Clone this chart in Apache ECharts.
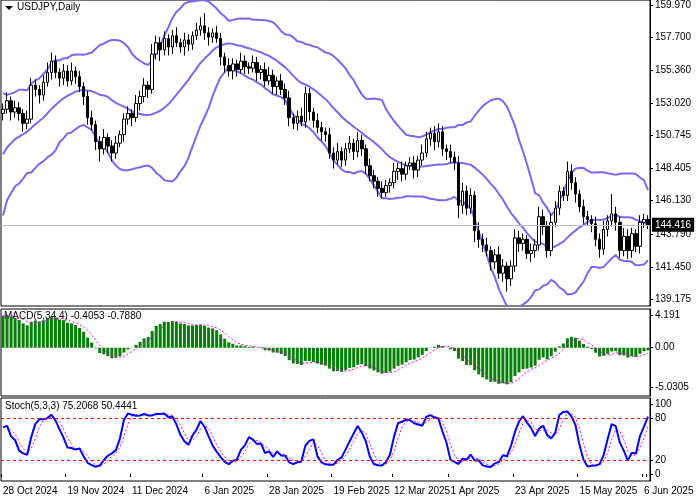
<!DOCTYPE html>
<html>
<head>
<meta charset="utf-8">
<title>USDJPY,Daily</title>
<script src="https://cdn.jsdelivr.net/npm/echarts@6/dist/echarts.min.js"></script>
<style>
  html, body { margin: 0; padding: 0; background: #fff; }
  #chart { width: 700px; height: 500px; }
</style>
</head>
<body>
<div id="chart"></div>
<script>
// 前一段行情（用于指标预热）
var warmCloses = [143.1,142.4,140.8,140.6,142.3,143.9,143.2,144.8,142.2,143.6,
  143.6,146.4,146.9,148.7,148.2,148.2,149.3,148.6,149.1,149.7,
  149.2,149.6,150.0,149.5,150.8,151.0,152.7,151.8,152.3];

// 收盘价（28 Oct 2024 - 6 Jun 2025）
var closes = [152.6,153.2,152.4,152.7,152.3,151.6,151.9,154.3,154.0,153.6,
  154.5,155.2,156.0,155.2,154.8,155.3,154.6,155.3,154.9,154.2,
  153.5,152.0,151.5,150.3,149.8,150.6,150.0,149.5,150.2,150.8,
  151.9,152.3,152.0,153.0,153.5,154.3,154.0,156.5,157.3,156.8,
  157.6,157.0,157.8,157.3,157.0,157.5,157.2,157.8,158.2,158.5,
  158.0,157.7,158.0,157.6,156.3,155.7,155.3,155.8,155.4,156.0,
  155.6,155.5,155.9,155.2,155.4,154.6,155.0,154.2,154.6,154.0,
  153.4,152.0,151.6,152.1,151.7,153.7,152.4,151.8,151.3,151.0,
  150.8,149.5,149.0,149.6,149.0,149.8,150.2,149.6,150.4,149.8,
  148.6,147.9,147.5,147.0,146.7,147.2,147.4,148.2,148.4,148.0,
  148.6,148.8,148.3,149.0,149.5,150.5,150.9,150.3,151.0,149.8,
  149.6,149.2,148.8,145.8,146.8,145.6,146.5,144.0,143.4,143.0,
  142.6,141.8,142.3,141.0,141.5,140.6,141.5,143.5,143.1,143.4,
  142.4,142.6,143.0,145.0,144.3,142.6,144.6,145.6,146.8,146.5,
  148.2,147.4,146.6,145.7,145.0,144.8,144.5,143.4,142.7,144.1,
  144.7,145.2,144.6,142.6,143.6,142.6,143.8,142.9,144.6,144.8,
  144.416];
// 上影线 / 下影线长度
var wickUp = [0.4,0.6,0.3,0.5,0.4,0.3,0.6,0.5,0.4,0.3, 0.5,0.7,0.6,0.4,0.3,0.5,0.4,0.6,0.3,0.4,
  0.3,0.4,0.5,0.3,0.4,0.6,0.3,0.4,0.5,0.3, 0.4,0.5,0.3,0.6,0.4,0.5,0.3,0.7,0.5,0.4,
  0.5,0.3,0.4,0.6,0.3,0.5,0.4,0.3,0.5,0.6, 0.9,0.4,0.3,0.5,0.4,0.3,0.5,0.4,0.3,0.6,
  0.4,0.3,0.5,0.4,0.3,0.5,0.6,0.4,0.3,0.5, 0.4,0.5,0.3,0.4,0.6,0.5,0.4,0.3,0.5,0.4,
  0.3,0.5,0.4,0.6,0.3,0.4,0.5,0.3,0.6,0.4, 0.3,0.5,0.4,0.3,0.5,0.4,0.3,0.6,0.4,0.5,
  0.3,0.4,0.5,0.3,0.6,0.5,0.4,0.5,0.6,0.4, 0.3,0.5,0.4,0.5,0.6,0.4,0.5,0.3,0.6,0.4,
  0.5,0.3,0.4,0.6,0.5,0.3,0.4,0.6,0.5,0.4, 0.3,0.5,0.4,0.7,0.5,0.4,0.6,0.5,0.4,0.3,
  0.7,0.5,0.4,0.3,0.5,0.4,0.3,0.5,0.4,0.6, 0.4,1.4,0.5,0.4,0.6,0.5,0.4,0.3,0.5,0.4,
  0.3];
var wickDn = [0.5,0.3,0.6,0.4,0.5,0.6,0.4,0.3,0.5,0.6, 0.4,0.3,0.5,0.4,0.6,0.5,0.4,0.3,0.5,0.4,
  0.6,0.5,0.4,0.6,0.9,0.4,0.5,0.6,0.4,0.3, 0.5,0.4,0.6,0.3,0.5,0.4,0.6,0.3,0.4,0.8,
  0.4,0.6,0.5,0.3,0.4,0.6,0.5,0.4,0.3,0.4, 0.5,0.6,0.4,0.3,0.6,0.5,0.4,0.6,0.5,0.3,
  0.5,0.4,0.3,0.6,0.5,0.4,0.3,0.5,0.6,0.4, 0.5,0.6,0.4,0.5,0.3,0.4,0.6,0.5,0.4,0.6,
  0.5,0.4,0.6,0.3,0.5,0.4,0.3,0.6,0.4,0.5, 0.6,0.4,0.5,0.6,0.4,0.3,0.5,0.4,0.6,0.5,
  0.4,0.3,0.6,0.5,0.4,0.3,0.5,0.6,0.4,0.5, 0.6,0.4,0.5,0.9,0.6,0.5,0.4,0.8,0.6,0.5,
  0.4,0.6,0.5,0.4,0.6,0.9,0.5,0.4,0.6,0.5, 0.4,0.6,0.5,0.4,0.6,0.5,0.4,0.3,0.5,0.4,
  0.4,0.5,0.6,0.4,0.5,0.4,0.6,0.5,0.6,0.4, 0.5,0.4,0.6,0.5,0.4,0.6,0.5,0.4,0.5,0.4,
  0.3];
var priceTicks = [159.970,157.700,155.360,153.020,150.745,148.405,146.130,143.790,141.450,139.175];
var macdTicks = [4.191,0,-5.0305];
var stochTicks = [100,80,20,0];
var dateLabels = ['28 Oct 2024','19 Nov 2024','11 Dec 2024','6 Jan 2025','28 Jan 2025','19 Feb 2025',
  '12 Mar 2025','1 Apr 2025','23 Apr 2025','15 May 2025','6 Jun 2025'];
var lastPrice = 144.416;

// 日期（工作日）
var MON = ['Jan','Feb','Mar','Apr','May','Jun','Jul','Aug','Sep','Oct','Nov','Dec'];
var dates = [];
var d = new Date(2024, 9, 28);
while (dates.length < closes.length) {
  if (d.getDay() !== 0 && d.getDay() !== 6) {
    dates.push(d.getDate() + ' ' + MON[d.getMonth()] + ' ' + d.getFullYear());
  }
  d.setDate(d.getDate() + 1);
}
// 让最后一根落在 6 Jun 2025
dates[dates.length - 1] = '6 Jun 2025';

// K线
var candles = [], highs = [], lows = [];
for (var i = 0; i < closes.length; i++) {
  var o = i === 0 ? warmCloses[warmCloses.length - 1] : closes[i - 1];
  var c = closes[i];
  var h = Math.max(o, c) + wickUp[i], l = Math.min(o, c) - wickDn[i];
  highs.push(h); lows.push(l);
  candles.push([o, c, l, h]);
}

// 指标
var all = warmCloses.concat(closes), W = warmCloses.length;
var bbMid = [], bbUp = [], bbLo = [];
for (var i = W; i < all.length; i++) {
  var s = 0; for (var k = i - 19; k <= i; k++) s += all[k];
  var m = s / 20, v = 0;
  for (var k = i - 19; k <= i; k++) v += (all[k] - m) * (all[k] - m);
  var sd = Math.sqrt(v / 20);
  bbMid.push(m); bbUp.push(m + 2 * sd); bbLo.push(m - 2 * sd);
}
function ema(arr, n) {
  var a = 2 / (n + 1), out = [arr[0]];
  for (var i = 1; i < arr.length; i++) out.push(arr[i] * a + out[i - 1] * (1 - a));
  return out;
}
var e5 = ema(all, 5), e34 = ema(all, 34), macdAll = [];
for (var i = 0; i < all.length; i++) macdAll.push(e5[i] - e34[i]);
var macd = [], macdSig = [];
for (var i = W; i < all.length; i++) {
  macd.push(macdAll[i]);
  macdSig.push((macdAll[i] + macdAll[i - 1] + macdAll[i - 2] + macdAll[i - 3]) / 4);
}
var kNum = [], kDen = [];
for (var i = 0; i < closes.length; i++) {
  var hh = -1e9, ll = 1e9;
  for (var k = Math.max(0, i - 4); k <= i; k++) { hh = Math.max(hh, highs[k]); ll = Math.min(ll, lows[k]); }
  kNum.push(closes[i] - ll); kDen.push(hh - ll);
}
var stK = [], stD = [];
for (var i = 0; i < closes.length; i++) {
  var a = 0, b = 0;
  for (var k = Math.max(0, i - 2); k <= i; k++) { a += kNum[k]; b += kDen[k]; }
  stK.push(b ? a / b * 100 : 50);
}
for (var i = 0; i < closes.length; i++) {
  var s = 0, n = 0;
  for (var k = Math.max(0, i - 2); k <= i; k++) { s += stK[k]; n++; }
  stD.push(s / n);
}

var font = 'Liberation Sans';
var lbl = { fontFamily: font, fontSize: 10, color: '#000' };
function yAx(idx, min, max, ticks, fmt) {
  return {
    gridIndex: idx, position: 'right', scale: true, min: min, max: max,
    splitLine: { show: false },
    axisLine: { show: true, lineStyle: { color: '#000' } },
    axisTick: { show: true, length: 3, customValues: ticks, lineStyle: { color: '#000' } },
    axisLabel: Object.assign({ customValues: ticks, margin: 5, formatter: fmt }, lbl)
  };
}
function showDate(i, v) { return dateLabels.indexOf(v) >= 0; }
function xAx(idx, showLabel) {
  return {
    type: 'category', gridIndex: idx, data: dates, boundaryGap: true,
    axisLine: { show: false },
    axisTick: { show: showLabel, interval: showDate, length: 3, lineStyle: { color: '#000' } },
    axisLabel: Object.assign({ show: showLabel, interval: showDate, align: 'left', margin: 5 }, lbl),
    splitLine: { show: false }
  };
}
var frame = { show: true, borderColor: '#000', borderWidth: 1, left: 1, right: 50 };
var band = function (data) {
  return { type: 'line', data: data, xAxisIndex: 0, yAxisIndex: 0, showSymbol: false, smooth: false,
    lineStyle: { color: '#7b68ee', width: 2 }, z: 1, silent: true };
};

var chart = echarts.init(document.getElementById('chart'));
chart.setOption({
  animation: false,
  backgroundColor: '#fff',
  grid: [
    Object.assign({ top: 0, height: 306 }, frame),
    Object.assign({ top: 309, height: 87 }, frame),
    Object.assign({ top: 398, height: 83 }, frame)
  ],
  xAxis: [xAx(0, false), xAx(1, false), xAx(2, true)],
  yAxis: [
    yAx(0, 138.68, 160.32, priceTicks, function (v) { return v.toFixed(3); }),
    yAx(1, -6.18, 4.96, macdTicks, function (v) { return v === 0 ? '0.00' : String(v); }),
    yAx(2, -10, 108.6, stochTicks, function (v) { return String(v); })
  ],
  graphic: [
    { type: 'polygon', shape: { points: [[5, 6], [13, 6], [9, 10]] }, style: { fill: '#000' } },
    { type: 'text', left: 17, top: 2, style: { text: 'USDJPY,Daily', font: '10px ' + font, fill: '#000' } },
    { type: 'text', left: 4, top: 311, style: { text: 'MACD(5,34,4) -0.4053 -0.7880', font: '10px ' + font, fill: '#000' } },
    { type: 'text', left: 5, top: 401, style: { text: 'Stoch(5,3,3) 75.2068 50.4441', font: '10px ' + font, fill: '#000' } }
  ],
  series: [
    band(bbUp), band(bbMid), band(bbLo),
    {
      type: 'candlestick', data: candles, xAxisIndex: 0, yAxisIndex: 0, barWidth: 3, z: 3,
      itemStyle: { color: '#fff', color0: '#000', borderColor: '#000', borderColor0: '#000', borderWidth: 1 },
      markLine: {
        symbol: 'none', silent: true, animation: false,
        data: [{ yAxis: lastPrice }],
        lineStyle: { color: '#c0c0c0', type: 'solid', width: 1 },
        label: { position: 'end', distance: 2, formatter: lastPrice.toFixed(3), backgroundColor: '#000',
          color: '#fff', fontFamily: font, fontSize: 10, padding: [2, 3] }
      }
    },
    { type: 'bar', data: macd, xAxisIndex: 1, yAxisIndex: 1, barWidth: 3, itemStyle: { color: '#008000' } },
    { type: 'line', data: macdSig, xAxisIndex: 1, yAxisIndex: 1, showSymbol: false,
      lineStyle: { color: '#ff00ff', width: 1, type: [2, 2] }, z: 3 },
    { type: 'line', data: stK, xAxisIndex: 2, yAxisIndex: 2, showSymbol: false,
      lineStyle: { color: '#0000ff', width: 2 }, z: 3,
      markLine: { symbol: 'none', silent: true, label: { show: false },
        lineStyle: { color: '#ff0000', type: [3, 3], width: 1 },
        data: [{ yAxis: 80 }, { yAxis: 20 }] } },
    { type: 'line', data: stD, xAxisIndex: 2, yAxisIndex: 2, showSymbol: false,
      lineStyle: { color: '#ff00ff', width: 1, type: [2, 2] }, z: 2 }
  ]
});
</script>
</body>
</html>
